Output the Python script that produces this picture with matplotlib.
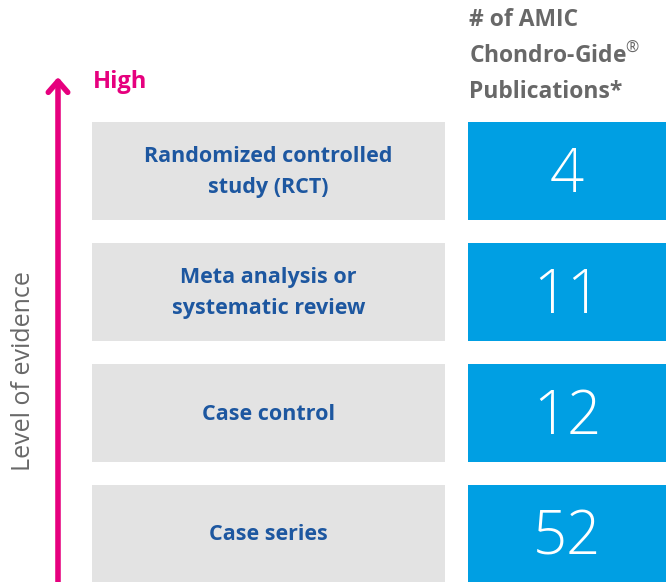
import matplotlib
matplotlib.use("Agg")
import matplotlib.pyplot as plt

# data
categories = ["Randomized controlled\nstudy (RCT)",
              "Meta analysis or\nsystematic review",
              "Case control",
              "Case series"]
publications = [4, 11, 12, 52]
header = "# of AMIC\nChondro-Gide$^{\u00ae}$\nPublications*"

MAGENTA = "#E6007E"
BLUE = "#009FE3"
GREY_BOX = "#E3E3E3"
TEXT_BLUE = "#1D57A0"
TEXT_GREY = "#686868"

plt.rcParams["font.family"] = ["Open Sans", "DejaVu Sans"]
plt.rcParams["mathtext.fontset"] = "custom"
plt.rcParams["mathtext.rm"] = "Open Sans"
plt.rcParams["mathtext.default"] = "rm"

fig = plt.figure(figsize=(6.7, 5.82), dpi=100)
ax = fig.add_axes([0, 0, 1, 1])
ax.set_xlim(0, 670)
ax.set_ylim(582, 0)
ax.axis("off")

# row layout in pixels
row_y = [171 + 121 * i for i in range(len(categories))]
row_h = 98

ax.barh(row_y, 353, left=92, height=row_h, color=GREY_BOX)
ax.barh(row_y, 198, left=468, height=row_h, color=BLUE)

for y, cat, n in zip(row_y, categories, publications):
    ax.text(268.5, y + 1, cat, ha="center", va="center", fontsize=15.5,
            fontweight="bold", color=TEXT_BLUE, linespacing=1.65)
    ax.text(567, y + 5, str(n), ha="center", va="center", fontsize=43,
            fontweight="light", color="white")

# header
ax.text(469, 56, header, ha="left", va="center",
        fontsize=16.5, fontweight="bold", color=TEXT_GREY, linespacing=1.6)

# arrow for level of evidence
ax.annotate("", xy=(58, 77), xytext=(58, 590),
            arrowprops=dict(arrowstyle="->,head_length=0.8,head_width=0.7",
                            lw=4, color=MAGENTA, shrinkA=0, shrinkB=0))
ax.text(93, 82, "High", ha="left", va="center", fontsize=17,
        fontweight="bold", color=MAGENTA)
ax.text(24, 371, "Level of evidence", ha="center", va="center", rotation=90,
        fontsize=18, color=TEXT_GREY)

fig.savefig("out.png", dpi=100)
